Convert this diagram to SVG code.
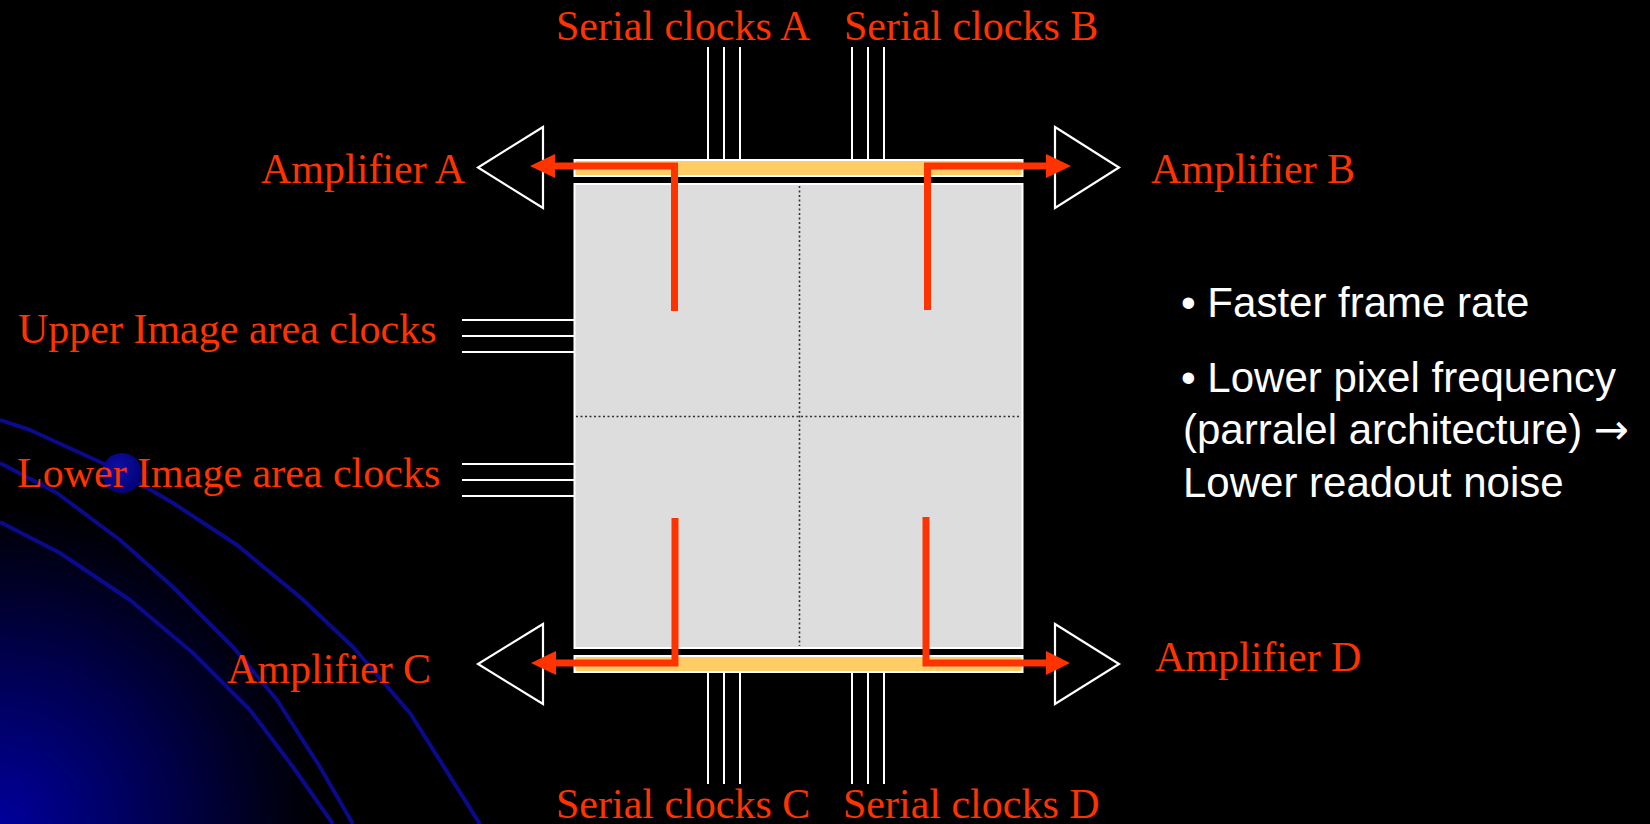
<svg xmlns="http://www.w3.org/2000/svg" width="1650" height="824" viewBox="0 0 1650 824">
<defs>
<radialGradient id="corner" cx="0" cy="824" r="320" gradientUnits="userSpaceOnUse">
<stop offset="0" stop-color="#00009c"/>
<stop offset="0.55" stop-color="#000048"/>
<stop offset="1" stop-color="#000000"/>
</radialGradient>
<radialGradient id="dot" cx="0.4" cy="0.4" r="0.7">
<stop offset="0" stop-color="#1010a8"/>
<stop offset="1" stop-color="#000070"/>
</radialGradient>
<style>
.lbl{font-family:"Liberation Serif","Times New Roman",serif;font-size:42px;fill:#ff3300}
.bul{font-family:"Liberation Sans",Arial,sans-serif;font-size:42px;fill:#ffffff}
.arr{font-family:"DejaVu Sans",sans-serif}
.wire{stroke:#ffffff;stroke-width:2;fill:none}
.amp{stroke:#ffffff;stroke-width:2.2;fill:none;stroke-linejoin:miter}
.red{stroke:#ff3300;stroke-width:7;fill:none;stroke-linejoin:miter}
.head{fill:#ff3300}
.swirl{stroke:#0a0a8c;stroke-width:4;fill:none;stroke-linejoin:round}
.dots{stroke:#333333;stroke-width:1.6;stroke-dasharray:2 2.5;fill:none}
</style>
</defs>
<rect x="0" y="0" width="1650" height="824" fill="#000000"/>
<g id="background">
<rect x="0" y="480" width="360" height="344" fill="url(#corner)"/>
<polyline class="swirl" points="0,420 30,430 100,462 122,473 173,503 237,545 300,597 353,647 410,713 480,824"/>
<polyline class="swirl" points="0,463 57,493 120,540 173,587 233,647 277,700 320,767 353,824"/>
<polyline class="swirl" points="0,522 60,553 130,600 193,653 250,710 293,767 333,824"/>
<circle cx="122" cy="473" r="20" fill="url(#dot)"/>
</g>
<g id="ccd">
<rect x="574.5" y="184" width="448" height="464" fill="#dddddd" stroke="#ffffff" stroke-width="2"/>
<line class="dots" x1="799.5" y1="186" x2="799.5" y2="646"/>
<line class="dots" x1="576" y1="416.5" x2="1021" y2="416.5"/>
</g>
<g id="register-top">
<rect x="574.5" y="160" width="448" height="16" fill="#ffcc66" stroke="#ffffff" stroke-width="2"/>
</g>
<g id="register-bottom">
<rect x="574.5" y="656" width="448" height="16" fill="#ffcc66" stroke="#ffffff" stroke-width="2"/>
</g>
<g id="amp-a"><polygon class="amp" points="543,127 478,167.5 543,208"/><text class="lbl" x="261" y="183">Amplifier A</text></g>
<g id="amp-b"><polygon class="amp" points="1055,127 1119,167.5 1055,208"/><text class="lbl" x="1151" y="183">Amplifier B</text></g>
<g id="amp-c"><polygon class="amp" points="543,624 478,664 543,704"/><text class="lbl" x="227" y="683">Amplifier C</text></g>
<g id="amp-d"><polygon class="amp" points="1055,624 1119,664 1055,704"/><text class="lbl" x="1155" y="671">Amplifier D</text></g>
<g id="clocks-a"><path class="wire" d="M708,47V160M724,47V160M740,47V160"/><text class="lbl" x="556" y="40">Serial clocks A</text></g>
<g id="clocks-b"><path class="wire" d="M852,47V160M868,47V160M884,47V160"/><text class="lbl" x="844" y="40">Serial clocks B</text></g>
<g id="clocks-c"><path class="wire" d="M708,672V784M724,672V784M740,672V784"/><text class="lbl" x="556" y="818">Serial clocks C</text></g>
<g id="clocks-d"><path class="wire" d="M852,672V784M868,672V784M884,672V784"/><text class="lbl" x="843" y="818">Serial clocks D</text></g>
<g id="clocks-upper"><path class="wire" d="M462,320H574M462,336H574M462,352H574"/><text class="lbl" x="18" y="343">Upper Image area clocks</text></g>
<g id="clocks-lower"><path class="wire" d="M462,464H574M462,480H574M462,496H574"/><text class="lbl" x="17" y="487">Lower Image area clocks</text></g>
<g id="connectors">
<path class="red" d="M674.5,311V166H552"/>
<polygon class="head" points="530,166 555,154 555,178"/>
<path class="red" d="M927.5,310V166H1048"/>
<polygon class="head" points="1071,166 1046,154 1046,178"/>
<path class="red" d="M675,518V663H552"/>
<polygon class="head" points="531,663 556,651 556,675"/>
<path class="red" d="M926,517V663H1048"/>
<polygon class="head" points="1070,663 1046,651 1046,675"/>
</g>
<g id="notes">
<text class="bul" x="1181" y="317">• Faster frame rate</text>
<text class="bul" x="1181" y="392">• Lower pixel frequency</text>
<text class="bul" x="1183" y="444">(parralel architecture) <tspan class="arr">→</tspan></text>
<text class="bul" x="1183" y="497">Lower readout noise</text>
</g>
</svg>
